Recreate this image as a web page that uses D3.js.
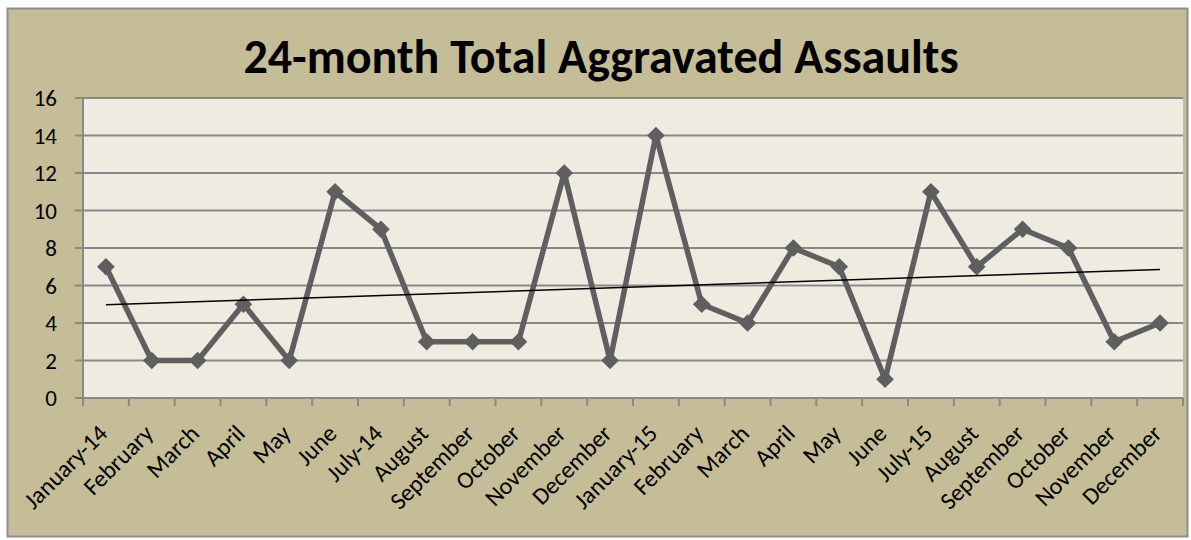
<!DOCTYPE html>
<html>
<head>
<meta charset="utf-8">
<script src="https://cdn.jsdelivr.net/npm/d3@7"></script>
<style>
  body { margin: 0; background: #fff; }
  svg { display: block; font-family: Carlito, "Open Sans", "DejaVu Sans", sans-serif; }
</style>
</head>
<body>
<svg id="chart"></svg>
<script>
var months = ["January-14", "February", "March", "April", "May", "June", "July-14",
  "August", "September", "October", "November", "December", "January-15",
  "February", "March", "April", "May", "June", "July-15", "August",
  "September", "October", "November", "December"];

var assaults = [7, 2, 2, 5, 2, 11, 9, 3, 3, 3, 12, 2, 14, 5, 4, 8, 7, 1, 11, 7, 9, 8, 3, 4];

var yTicks = [0, 2, 4, 6, 8, 10, 12, 14, 16];

var width = 1191, height = 540;
var plot = { left: 83, right: 1183, top: 98, bottom: 398 };

var svg = d3.select("#chart")
    .attr("width", width)
    .attr("height", height);

// outer chart area
svg.append("rect")
    .attr("x", 7.5).attr("y", 8.5)
    .attr("width", 1180).attr("height", 528)
    .attr("fill", "#c4bd97")
    .attr("stroke", "#8c8c8c")
    .attr("stroke-width", 2);

svg.append("text")
    .attr("x", 601)
    .attr("y", 73)
    .attr("font-size", 48)
    .attr("font-weight", "bold")
    .style("text-anchor", "middle")
    .text("24-month Total Aggravated Assaults");

// keys are indices so repeated month names stay distinct
var x = d3.scaleBand()
    .domain(d3.range(months.length))
    .range([plot.left, plot.right]);

var y = d3.scaleLinear()
    .domain([0, 16])
    .range([plot.bottom, plot.top]);

svg.append("rect")
    .attr("x", plot.left).attr("y", plot.top)
    .attr("width", plot.right - plot.left)
    .attr("height", plot.bottom - plot.top)
    .attr("fill", "#eeece1");

// gridlines
svg.append("g")
  .selectAll("line")
  .data(yTicks)
  .enter()
  .append("line")
    .attr("x1", plot.left - 8)
    .attr("x2", plot.right)
    .attr("y1", d => y(d))
    .attr("y2", d => y(d))
    .attr("stroke", "#898989")
    .attr("stroke-width", 2);

svg.append("g")
  .selectAll("text")
  .data(yTicks)
  .enter()
  .append("text")
    .attr("x", 57)
    .attr("y", d => y(d))
    .attr("dy", "0.35em")
    .attr("font-size", 23)
    .style("text-anchor", "end")
    .text(d => d);

// y axis line
svg.append("line")
    .attr("x1", plot.left).attr("x2", plot.left)
    .attr("y1", plot.top).attr("y2", plot.bottom + 8)
    .attr("stroke", "#898989")
    .attr("stroke-width", 2);

// x tick marks at category boundaries
svg.append("g")
  .selectAll("line")
  .data(d3.range(months.length + 1))
  .enter()
  .append("line")
    .attr("x1", d => plot.left + d * x.step())
    .attr("x2", d => plot.left + d * x.step())
    .attr("y1", plot.bottom)
    .attr("y2", plot.bottom + 8)
    .attr("stroke", "#898989")
    .attr("stroke-width", 2);

svg.append("g")
  .selectAll("text")
  .data(months)
  .enter()
  .append("text")
    .attr("font-size", 24)
    .style("text-anchor", "end")
    .attr("transform", (d, i) => {
      var cx = x(i) + x.bandwidth() / 2 + 3;
      return "translate(" + cx + "," + (plot.bottom + 37) + ") rotate(-45)";
    })
    .text(d => d);

var cx = (d, i) => x(i) + x.bandwidth() / 2;

var line = d3.line()
    .x(cx)
    .y(d => y(d));

svg.append("path")
    .datum(assaults)
    .attr("d", line)
    .attr("fill", "none")
    .attr("stroke", "#5f5f5f")
    .attr("stroke-width", 5.5)
    .attr("stroke-linejoin", "round");

svg.append("g")
  .selectAll("path")
  .data(assaults)
  .enter()
  .append("path")
    .attr("d", d3.symbol(d3.symbolDiamond2, 200))
    .attr("transform", (d, i) => "translate(" + cx(d, i) + "," + y(d) + ")")
    .attr("fill", "#5f5f5f");

// linear trendline (least squares)
var n = assaults.length;
var mx = d3.mean(d3.range(n)), my = d3.mean(assaults);
var slope = d3.sum(assaults, (d, i) => (i - mx) * (d - my)) /
            d3.sum(d3.range(n), i => (i - mx) * (i - mx));
var icpt = my - slope * mx;

svg.append("line")
    .attr("x1", cx(null, 0))
    .attr("y1", y(icpt))
    .attr("x2", cx(null, n - 1))
    .attr("y2", y(icpt + slope * (n - 1)))
    .attr("stroke", "#000")
    .attr("stroke-width", 1.5);
</script>
</body>
</html>
